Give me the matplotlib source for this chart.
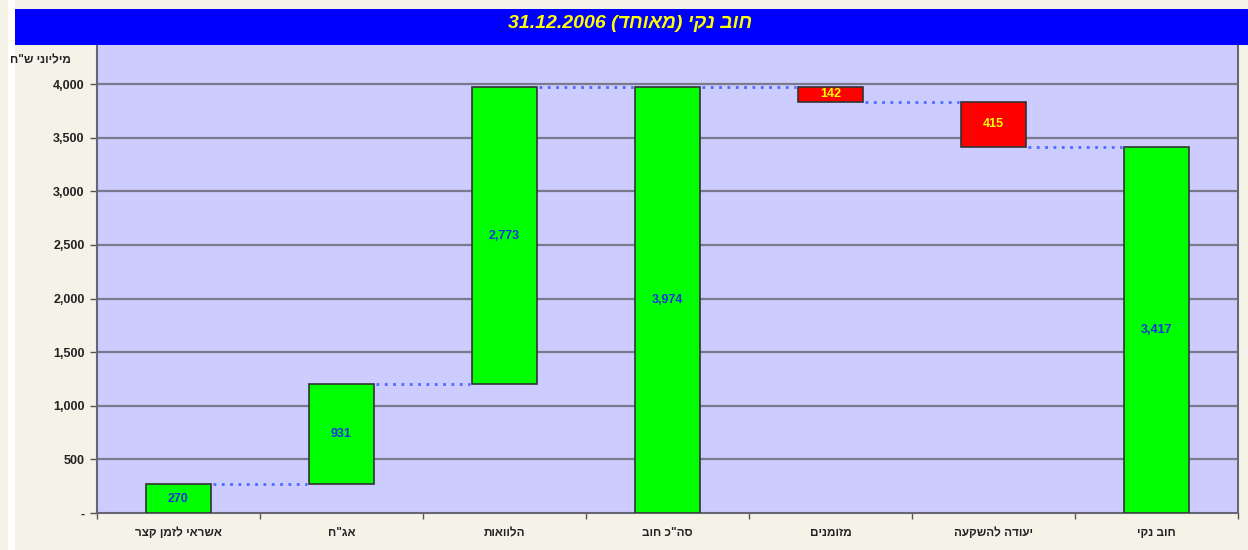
import re
import matplotlib
matplotlib.use("Agg")
import matplotlib.pyplot as plt
from matplotlib.patches import Rectangle
from matplotlib.ticker import FixedLocator

plt.rcParams['font.family'] = ['Liberation Sans', 'DejaVu Sans']

# Data (millions NIS)
categories = ['אשראי לזמן קצר', 'אג"ח', 'הלוואות', 'סה"כ חוב', 'מזומנים', 'יעודה להשקעה', 'חוב נקי']
values = [270, 931, 2773, 3974, -142, -415, 3417]
is_total = [False, False, False, True, False, False, True]
value_labels = ['270', '931', '2,773', '3,974', '142', '415', '3,417']
y_ticks = [0, 500, 1000, 1500, 2000, 2500, 3000, 3500, 4000]
y_tick_labels = ['-', '500', '1,000', '1,500', '2,000', '2,500', '3,000', '3,500', '4,000']
title = 'חוב נקי (מאוחד) 31.12.2006'
unit_label = 'מיליוני ש"ח'


def heb(s):
    # matplotlib has no bidi support: put the glyphs in visual order
    r = s[::-1]
    r = re.sub(r'[0-9][0-9.,]*[0-9]|[0-9]', lambda m: m.group(0)[::-1], r)
    return r.translate(str.maketrans('()', ')('))


cream = '#f5f3e8'
fig = plt.figure(figsize=(12.48, 5.5), dpi=100, facecolor=cream)

# white strip on the left and blue title bar
fig.patches.append(Rectangle((8 / 1248, 0), 7 / 1248, 1, transform=fig.transFigure,
                             facecolor='white', edgecolor='none', zorder=0))
fig.patches.append(Rectangle((15 / 1248, 1 - 45 / 550), 1 - 15 / 1248, 36 / 550,
                             transform=fig.transFigure, facecolor='#0000ff',
                             edgecolor='none', zorder=1))
fig.text(0.505, 1 - 24 / 550, heb(title), color='#ffff00', fontsize=14,
         fontweight='bold', style='italic', ha='center', va='center')

ax = fig.add_axes([97 / 1248, 1 - 513 / 550, (1238 - 97) / 1248, (513 - 45) / 550])
ax.set_facecolor('#ccccff')
ax.set_xlim(-0.5, len(categories) - 0.5)
ax.set_ylim(0, 4364)

for y in y_ticks[1:]:
    ax.axhline(y, color='#7a7a8c', lw=1.6, zorder=1)

width = 0.4
level = 0
tops = []
for i, (v, tot) in enumerate(zip(values, is_total)):
    if tot:
        bottom, h = 0, v
        level = v
    else:
        bottom = level + min(v, 0)
        h = abs(v)
        level += v
    tops.append(level)
    color = '#00ff00' if v > 0 else '#ff0000'
    ax.bar(i, h, bottom=bottom, width=width, color=color, edgecolor='#333333',
           lw=1.2, zorder=3)
    txt_color = '#1a33dd' if v > 0 else '#ffff00'
    ax.text(i, bottom + h / 2, value_labels[i], ha='center', va='center',
            fontsize=9, fontweight='bold', color=txt_color, zorder=4)

# dotted connectors between bars
for i in range(len(values) - 1):
    ax.plot([i + width / 2 + 0.01, i + 1 - width / 2 - 0.01], [tops[i], tops[i]],
            ls=(0, (1, 2)), color='#4d6bff', lw=2, zorder=2)

ax.set_yticks(y_ticks)
ax.set_yticklabels(y_tick_labels, fontsize=9, fontweight='bold', color='#222222')
ax.tick_params(axis='y', length=5, width=1, color='#555555', pad=4)

ax.set_xticks(range(len(categories)))
ax.set_xticklabels([heb(c) for c in categories], fontsize=8.5, fontweight='bold',
                   color='#222222')
ax.tick_params(axis='x', length=0, pad=10)
ax.xaxis.set_minor_locator(FixedLocator([i - 0.5 for i in range(len(categories) + 1)]))
ax.tick_params(axis='x', which='minor', length=4, width=1, color='#555555')

for side in ['left', 'bottom', 'right']:
    ax.spines[side].set_color('#666677')
    ax.spines[side].set_linewidth(1.5)
ax.spines['top'].set_visible(False)

fig.text(10 / 1248, 1 - 60 / 550, heb(unit_label), fontsize=8.5, fontweight='bold',
         color='#222222', ha='left', va='center')

fig.savefig('out.png', dpi=100, facecolor=cream)
